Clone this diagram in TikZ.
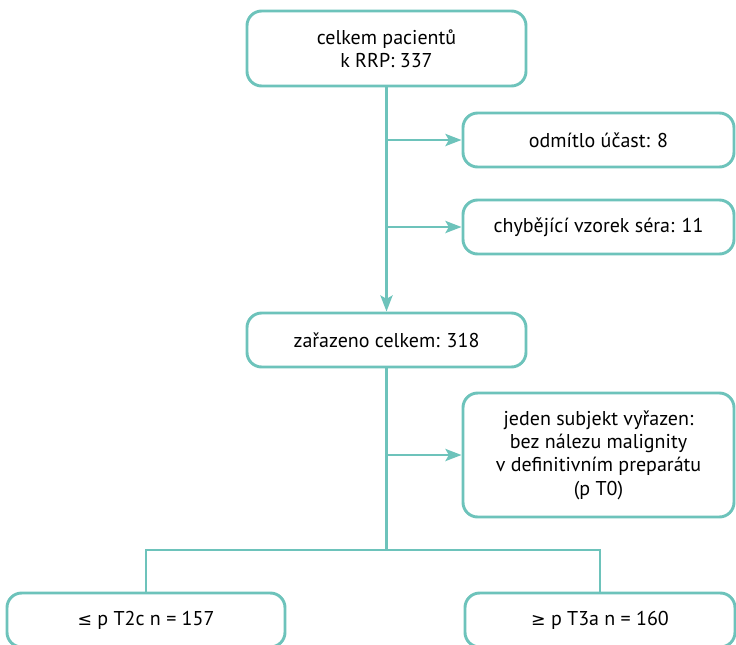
\documentclass[tikz,border=0pt]{standalone}
\usepackage{fontspec}
\setmainfont{PT Sans}
\newfontfamily\symfont{DejaVu Sans}
\usetikzlibrary{arrows.meta}
\definecolor{teal1}{HTML}{6DC3BB}
\begin{document}
\begin{tikzpicture}[x=0.75pt,y=-0.75pt,
  box/.style={draw=teal1,line width=2.2pt,rounded corners=11pt,align=center,
    font=\fontsize{15}{17.5}\selectfont,inner sep=0pt,fill=white},
  conn/.style={draw=teal1,line width=2.2pt},
  arr/.style={conn,-{Stealth[length=12pt,width=9pt,inset=2.5pt]}}]
\useasboundingbox (0,0) rectangle (736,644);
\clip (0,0) rectangle (736,644);
\node[box,minimum width=279*0.75pt,minimum height=75*0.75pt] (top) at (386.5,48.5) {celkem pacientů\\k RRP: 337};
\node[box,minimum width=271*0.75pt,minimum height=54*0.75pt] (odm) at (598.5,140) {odmítlo účast: 8};
\node[box,minimum width=271*0.75pt,minimum height=54*0.75pt] (chy) at (598.5,227) {chybějící vzorek séra: 11};
\node[box,minimum width=279*0.75pt,minimum height=54*0.75pt] (zar) at (386.5,340) {zařazeno celkem: 318};
\node[box,minimum width=271*0.75pt,minimum height=124*0.75pt] (jed) at (598.5,455) {jeden subjekt vyřazen:\\bez nálezu malignity\\v definitivním preparátu\\(p T0)};
\node[box,minimum width=278*0.75pt,minimum height=54*0.75pt] (lft) at (146,620) {{\symfont\fontsize{13}{15}\selectfont ≤} p T2c n = 157};
\node[box,minimum width=270*0.75pt,minimum height=54*0.75pt] (rgt) at (600,620) {{\symfont\fontsize{13}{15}\selectfont ≥} p T3a n = 160};
\coordinate (b1) at (386.5,140);
\coordinate (b2) at (386.5,227);
\coordinate (b3) at (386.5,455);
\coordinate (sp) at (386.5,550);
\draw[arr] (top.south) -- (zar.north);
\draw[arr] (b1) -- (odm.west);
\draw[arr] (b2) -- (chy.west);
\draw[conn] (zar.south) -- (sp);
\draw[arr] (b3) -- (jed.west);
\draw[conn] (lft.north) |- (sp) -| (rgt.north);
\end{tikzpicture}
\end{document}
